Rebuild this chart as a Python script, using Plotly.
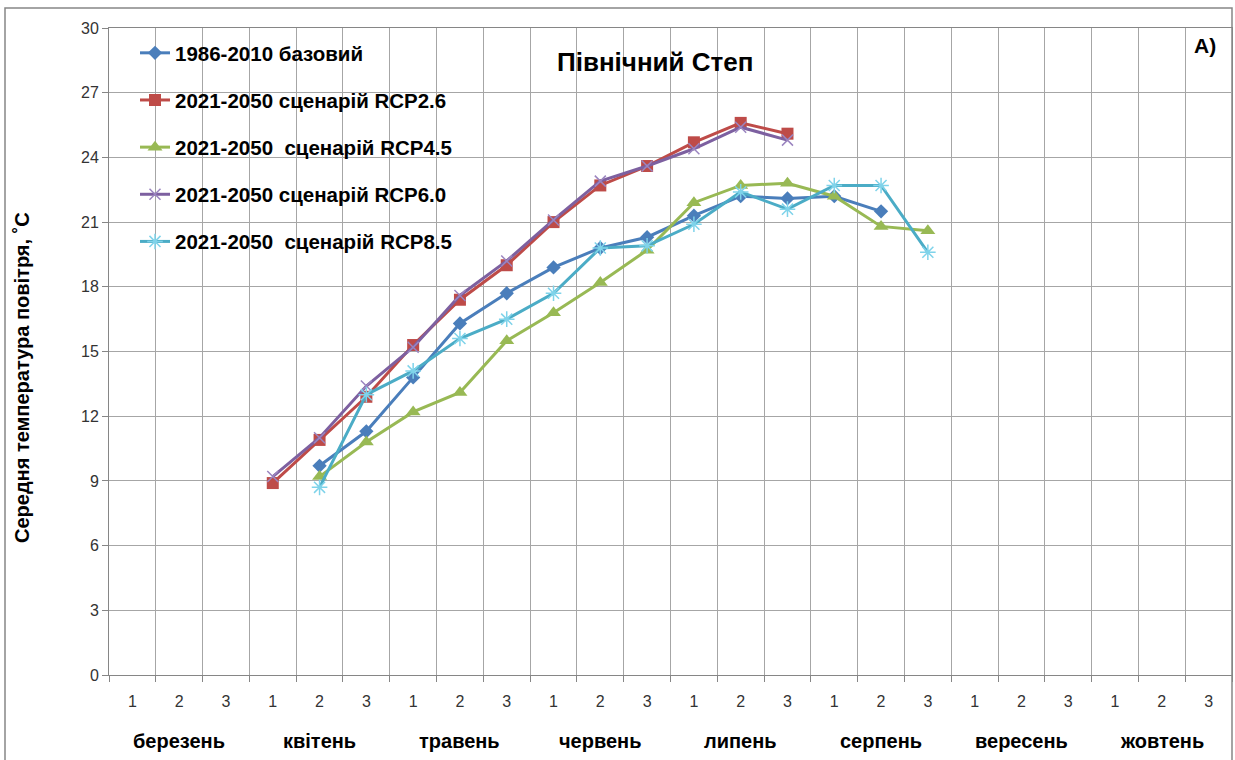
import plotly.graph_objects as go

months = ["березень", "квітень", "травень", "червень", "липень", "серпень", "вересень", "жовтень"]
decades = ["1", "2", "3"]
n = len(months) * len(decades)
xpos = list(range(n))
tick_text = decades * len(months)

N = None
base_1986 = [N, N, N, N, 9.7, 11.3, 13.8, 16.3, 17.7, 18.9, 19.8, 20.3, 21.3, 22.2, 22.1, 22.2, 21.5, N, N, N, N, N, N, N]
rcp26 = [N, N, N, 8.9, 10.9, 12.9, 15.3, 17.4, 19.0, 21.0, 22.7, 23.6, 24.7, 25.6, 25.1, N, N, N, N, N, N, N, N, N]
rcp45 = [N, N, N, N, 9.2, 10.8, 12.2, 13.1, 15.5, 16.8, 18.2, 19.7, 21.9, 22.7, 22.8, 22.2, 20.8, 20.6, N, N, N, N, N, N]
rcp60 = [N, N, N, 9.2, 11.0, 13.4, 15.2, 17.6, 19.2, 21.1, 22.9, 23.6, 24.4, 25.4, 24.8, N, N, N, N, N, N, N, N, N]
rcp85 = [N, N, N, N, 8.7, 13.0, 14.1, 15.6, 16.5, 17.7, 19.8, 19.9, 20.9, 22.4, 21.6, 22.7, 22.7, 19.6, N, N, N, N, N, N]

series_names = ["1986-2010 базовий", "2021-2050 сценарій RCP2.6", "2021-2050  сценарій RCP4.5",
                "2021-2050 сценарій RCP6.0", "2021-2050  сценарій RCP8.5"]
series_vals = [base_1986, rcp26, rcp45, rcp60, rcp85]
colors = ["#4a7ebb", "#be4b48", "#98b954", "#7d60a0", "#4bacc6"]
symbols = ["diamond", "square", "triangle-up", "x-thin", "asterisk"]
msizes = [11, 12, 13, 11, 13]

fig = go.Figure()
for i, (name, vals) in enumerate(zip(series_names, series_vals)):
    mk = dict(symbol=symbols[i], size=msizes[i], color=colors[i])
    if symbols[i] in ("x-thin", "asterisk"):
        mk["line"] = dict(color="#9b85c0" if i == 3 else "#7fd3ea", width=1.5)
    fig.add_trace(go.Scatter(
        x=xpos, y=vals, name=name, mode="lines+markers",
        line=dict(color=colors[i], width=3), marker=mk,
        legendgroup=f"g{i}", connectgaps=False,
    ))

grid = "#a6a6a6"
fig.update_xaxes(
    range=[-0.5, n - 0.5], tickmode="array", tickvals=xpos, ticktext=tick_text,
    ticks="", showgrid=False, showline=True, linecolor="#868686", mirror=True,
    tickfont=dict(family="Liberation Sans Narrow, Liberation Sans", size=16, color="#333"),
    ticklabelstandoff=12,
    minor=dict(tickmode="array", tickvals=[k - 0.5 for k in range(n + 1)],
               showgrid=True, gridcolor=grid, gridwidth=1,
               ticks="outside", ticklen=6, tickcolor="#868686"),
    zeroline=False,
)
fig.update_yaxes(
    range=[0, 30], dtick=3, tick0=0, showgrid=True, gridcolor=grid,
    showline=True, linecolor="#868686", mirror=True, ticks="outside", ticklen=6,
    tickcolor="#868686", zeroline=False,
    tickfont=dict(family="Liberation Sans Narrow, Liberation Sans", size=16, color="#333"),
)

L, R, T, B = 109, 3, 28, 85
W, H = 1235, 760
pw, ph = W - L - R, H - T - B

annotations = []
for m_i, m in enumerate(months):
    annotations.append(dict(x=m_i * 3 + 1, xref="x", y=-(741 - (H - B)) / ph, yref="paper",
                            text=m, showarrow=False, yanchor="middle",
                            font=dict(family="Liberation Sans", size=20, color="#000", weight="bold")))
annotations.append(dict(x=(655 - L) / pw, xref="paper", y=1 - (62 - T) / ph, yref="paper",
                        text="Північний Степ", showarrow=False, xanchor="center", yanchor="middle",
                        font=dict(family="Liberation Sans", size=26, color="#000", weight="bold")))
annotations.append(dict(x=(1205 - L) / pw, xref="paper", y=1 - (45 - T) / ph, yref="paper",
                        text="A)", showarrow=False, xanchor="center", yanchor="middle",
                        font=dict(family="Liberation Sans", size=21, color="#000", weight="bold")))
annotations.append(dict(x=(22 - L) / pw, xref="paper", y=1 - (378 - T) / ph, yref="paper",
                        text="Середня температура повітря, ˚С", showarrow=False, textangle=-90,
                        xanchor="center", yanchor="middle",
                        font=dict(family="Liberation Sans", size=20, color="#000", weight="bold")))

fig.update_layout(
    width=W, height=H, margin=dict(l=L, r=R, t=T, b=B),
    paper_bgcolor="white", plot_bgcolor="white",
    showlegend=True,
    legend=dict(x=(135 - L) / pw, y=1 - (33 - T) / ph, xanchor="left", yanchor="top",
                bgcolor="rgba(0,0,0,0)", tracegroupgap=17.5, itemwidth=30,
                font=dict(family="Liberation Sans", size=20.5, color="#000", weight="bold")),
    annotations=annotations,
    shapes=[dict(type="rect", xref="paper", yref="paper",
                 x0=(5 - L) / pw, x1=1.0, y0=-(H - (H - B) + 20) / ph, y1=1 + (T - 8) / ph,
                 line=dict(color="#868686", width=1.5), layer="below")],
)

fig.write_html("out.html")
